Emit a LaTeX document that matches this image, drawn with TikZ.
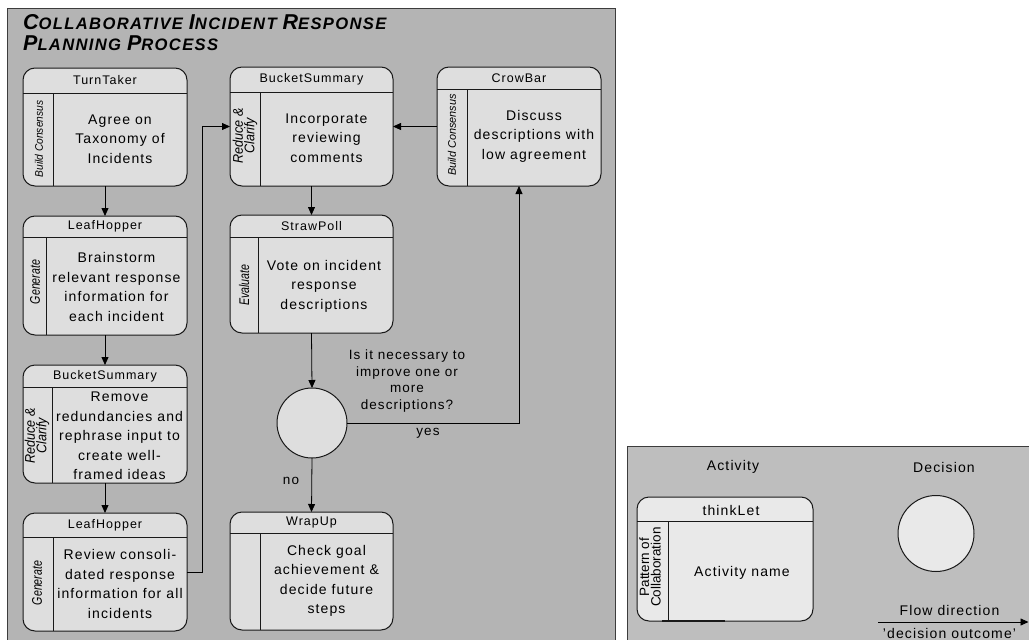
\documentclass[tikz,border=0pt]{standalone}
\usepackage{fontspec}
\setmainfont{Liberation Sans}[LetterSpace=8]
\newfontfamily\plainsans{Liberation Sans}
\usetikzlibrary{arrows.meta}

\definecolor{panel}{RGB}{180,180,180}
\definecolor{keypanel}{RGB}{190,190,190}
\definecolor{boxfill}{RGB}{222,222,222}
\definecolor{keyfill}{RGB}{233,233,233}
\definecolor{edge}{RGB}{25,25,25}
\definecolor{panelline}{RGB}{60,60,60}

\tikzset{
  panelframe/.style={draw=panelline, line width=1pt},
  actshape/.style={draw=edge, line width=1pt, fill=boxfill, rounded corners=12pt,
    inner sep=0pt, outer sep=0pt, anchor=north west},
  rule/.style={draw=edge, line width=0.9pt},
  hdr/.style={font=\fontsize{12.5}{14}\selectfont, inner sep=0pt},
  bodytext/.style={font=\fontsize{14}{19.5}\selectfont, align=center, inner sep=0pt},
  patt/.style={font=\plainsans\itshape\fontsize{14}{14}\selectfont, rotate=90, xscale=0.76, inner sep=0pt, align=center},
  pattpair/.style={font=\plainsans\itshape\fontsize{14}{11.5}\selectfont, rotate=90, xscale=0.9, inner sep=0pt, align=center},
  keypatt/.style={font=\plainsans\fontsize{13.5}{11.5}\selectfont, rotate=90, inner sep=0pt, align=center},
  decision/.style={circle, draw=edge, line width=1pt, fill=boxfill, inner sep=0pt, outer sep=0pt},
  flow/.style={draw=black, line width=0.8pt, -{Triangle[length=8pt,width=7pt]}},
  lbl/.style={font=\fontsize{13.5}{16.7}\selectfont, align=center, inner sep=0pt},
  caption/.style={font=\fontsize{14}{16}\selectfont, inner sep=0pt},
  titlefont/.style={font=\bfseries\itshape\fontsize{16.6}{18}\selectfont, inner sep=0pt, anchor=base west},
}

% larger first letter for the small-caps style title
\newcommand\bigini[1]{{\fontsize{21.5}{21.5}\selectfont #1}}

% activity box: name, left, top, width, height, header rule y, divider x, header text
\newcommand\activity[8]{%
  \node[actshape, minimum width=#4pt, minimum height=#5pt] (#1) at (#2,#3) {};
  \draw[rule] (#1.west |- 0,#6) -- (#1.east |- 0,#6);
  \draw[rule] (#7,#6) -- (#7,{#3+#5});
  \node[hdr] (#1-head) at ({#2+#4/2},{(#3+#6)/2}) {#8};
}

\begin{document}
\begin{tikzpicture}[x=1pt,y=-1pt]
\useasboundingbox (0,0) rectangle (1029,640);
\clip (0,0) rectangle (1029,640);

% panels
\draw[panelframe, fill=panel] (7,8) rectangle (615,670);
\draw[panelframe, fill=keypanel] (627,446) rectangle (1060,670);

% title
\node[titlefont] (title1) at (23,29) {\bigini{C}OLLABORATIVE \bigini{I}NCIDENT \bigini{R}ESPONSE};
\node[titlefont] (title2) at (23,50) {\bigini{P}LANNING \bigini{P}ROCESS};

% left column
\activity{tt}{23}{68}{164}{118}{93}{53}{TurnTaker}
\node[bodytext] (tt-body) at (120,139) {Agree on\\Taxonomy of\\Incidents};
\node[patt, font=\plainsans\itshape\fontsize{11}{11}\selectfont, xscale=1.22] (tt-pat) at (39,139) {Build Consensus};

\activity{lh1}{23}{216}{164}{119}{237}{46}{LeafHopper}
\node[bodytext] (lh1-body) at (116.5,287) {Brainstorm\\relevant response\\information for\\each incident};
\node[patt] (lh1-pat) at (35,282) {Generate};

\activity{bs2}{23}{365}{164}{118}{387}{52}{BucketSummary}
\node[bodytext] (bs2-body) at (119.5,436) {Remove\\redundancies and\\rephrase input to\\create well-\\framed ideas};
\node[pattpair] (bs2-pat) at (37,436) {Reduce \&\\Clarify};

\activity{lh2}{23}{513}{164}{118}{537}{53}{LeafHopper}
\node[bodytext] (lh2-body) at (120,584) {Review consoli-\\dated response\\information for all\\incidents};
\node[patt] (lh2-pat) at (37,583) {Generate};

% middle column
\activity{bs1}{230}{67}{163}{119}{92}{260}{BucketSummary}
\node[bodytext] (bs1-body) at (326.5,138) {Incorporate\\reviewing\\comments};
\node[pattpair] (bs1-pat) at (245,136) {Reduce \&\\Clarify};

\activity{sp}{230}{215}{163}{118}{237}{258}{StrawPoll}
\node[bodytext] (sp-body) at (324,286) {Vote on incident\\response\\descriptions};
\node[patt] (sp-pat) at (244,285) {Evaluate};

\node[decision, minimum size=70pt] (dec) at (312,423) {};

\activity{wu}{230}{512}{163}{118}{533}{260}{WrapUp}
\node[bodytext] (wu-body) at (326.5,581) {Check goal\\achievement \&\\decide future\\steps};

% right column
\activity{cb}{437}{67}{164}{119}{89}{467}{CrowBar}
\node[bodytext] (cb-body) at (534,136) {Discuss\\descriptions with\\low agreement};
\node[patt, font=\plainsans\itshape\fontsize{11}{11}\selectfont, xscale=1.3] (cb-pat) at (452,135) {Build Consensus};

% flow
\draw[flow] (tt.south) -- (lh1.north);
\draw[flow] (lh1.south) -- (bs2.north);
\draw[flow] (bs2.south) -- (lh2.north);
\draw[flow] (lh2.east) -- ++(15,0) |- (bs1.west);
\draw[flow] (cb.west) -- (bs1.east);
\draw[flow] (bs1.south) -- (sp.north);
\draw[flow] (sp.south) -- (dec.north);
\draw[flow] (dec.south) -- (wu.north);
\draw[flow] (dec.east) -| (cb.south);

\node[lbl] (question) at (407,381) {Is it necessary to\\improve one or\\more\\descriptions?};
\node[lbl] (yes) at (428,433) {yes};
\node[lbl] (no) at (291,481) {no};

% key
\node[caption] (key-act) at (733,467) {Activity};
\node[caption] (key-dec) at (944,467) {Decision};

\node[actshape, fill=keyfill, minimum width=176pt, minimum height=124pt] (key) at (637,497) {};
\draw[rule] (key.west |- 0,521) -- (key.east |- 0,521);
\draw[rule] (668,521) -- (668,621);
\draw[line width=2pt, draw=edge] (662,621) -- (725,621);
\node[hdr, font=\fontsize{14}{16}\selectfont] (key-head) at (731,510) {thinkLet};
\node[caption] (key-body) at (742,573) {Activity name};
\node[keypatt] (key-pat) at (650,567) {Pattern of\\Collaboration};

\node[decision, fill=keyfill, minimum size=76pt] (key-circ) at (936,533.5) {};

\coordinate (flow-a) at (878,622);
\coordinate (flow-b) at (1028.5,622);
\draw[flow] (flow-a) -- (flow-b);
\node[caption] (flow-top) at (949.5,610) {Flow direction};
\node[caption] (flow-bot) at (949.5,633) {'decision outcome'};
\end{tikzpicture}
\end{document}
